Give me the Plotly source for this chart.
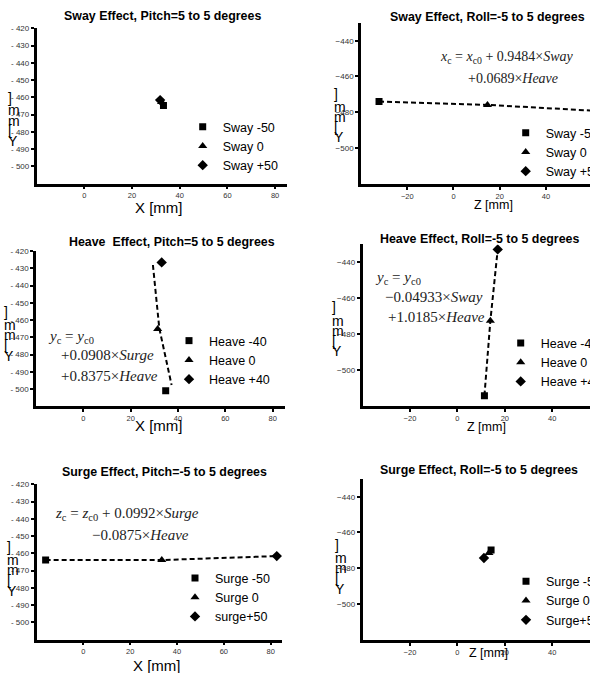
import plotly.graph_objects as go

# ---------------- data ----------------
marker_symbols = ["square", "triangle-up", "diamond"]

# Panel 1: Sway effect, pitch
p1_title = "Sway Effect, Pitch=5 to 5 degrees"
p1_names = ["Sway -50", "Sway 0", "Sway +50"]
p1_x = [33.2, 32.4, 31.8]
p1_y = [-464.8, -462.7, -461.6]

# Panel 2: Sway effect, roll
p2_title = "Sway Effect, Roll=-5 to 5 degrees"
p2_names = ["Sway -50", "Sway 0", "Sway +50"]
p2_x = [-32.2, 14.7, 63.0]
p2_y = [-474.0, -475.9, -479.3]
p2_eq = ["<i>x</i><sub>c</sub> = <i>x</i><sub>c0</sub> + 0.9484×<i>Sway</i>",
         "+0.0689×<i>Heave</i>"]

# Panel 3: Heave effect, pitch
p3_title = "Heave  Effect, Pitch=5 to 5 degrees"
p3_names = ["Heave -40", "Heave 0", "Heave +40"]
p3_x = [34.8, 31.4, 33.1]
p3_y = [-501.0, -465.2, -426.6]
p3_fit_x = [29.4, 32.1, 37.3]
p3_fit_y = [-428.1, -464.8, -497.7]
p3_eq = ["<i>y</i><sub>c</sub> = <i>y</i><sub>c0</sub>",
         "+0.0908×<i>Surge</i>",
         "+0.8375×<i>Heave</i>"]

# Panel 4: Heave effect, roll
p4_title = "Heave Effect, Roll=-5 to 5 degrees"
p4_names = ["Heave -40", "Heave 0", "Heave +40"]
p4_x = [11.4, 13.9, 17.0]
p4_y = [-514.3, -472.6, -432.8]
p4_eq = ["<i>y</i><sub>c</sub> = <i>y</i><sub>c0</sub>",
         "−0.04933×<i>Sway</i>",
         "+1.0185×<i>Heave</i>"]

# Panel 5: Surge effect, pitch
p5_title = "Surge Effect, Pitch=-5 to 5 degrees"
p5_names = ["Surge -50", "Surge 0", "surge+50"]
p5_x = [-16.1, 33.5, 82.6]
p5_y = [-463.9, -463.9, -461.6]
p5_eq = ["<i>z</i><sub>c</sub> = <i>z</i><sub>c0</sub> + 0.0992×<i>Surge</i>",
         "−0.0875×<i>Heave</i>"]

# Panel 6: Surge effect, roll
p6_title = "Surge Effect, Roll=-5 to 5 degrees"
p6_names = ["Surge -50", "Surge 0", "Surge+50"]
p6_x = [14.2, 13.3, 11.2]
p6_y = [-469.8, -471.5, -474.3]

# axis ticks
left_y_ticks = [-420, -430, -440, -450, -460, -470, -480, -490, -500]
left_y_ticktext = ["- 420", "- 430", "- 440", "- 450", "- 460", "- 470", "- 480", "- 490", "- 500"]
left_x_ticks = [0, 20, 40, 60, 80]
right_y_ticks = [-440, -460, -480, -500]
right_x_ticks = [-20, 0, 20, 40, 60]
y_title = "Y [mm]"
x_title_left = "X [mm]"
x_title_right = "Z [mm]"

# ---------------- layout helpers ----------------
W, H = 590, 673
SANS = "Liberation Sans, Arial, sans-serif"
SERIF = "Liberation Serif, Times New Roman, serif"


def xd(a, b):
    return [max(0, a / W), min(1, b / W)]


def yd(top, bot):
    return [1 - bot / H, 1 - top / H]


panels = [
    dict(title=p1_title, names=p1_names, x=p1_x, y=p1_y, line=None,
         xdom=xd(36.6, 287), ydom=yd(28.3, 183.6), xr=[-20, 85], yr=[-510, -420], left=True,
         tpos=(163, 16), xtpos=(159, 207), ychar=(6, 97.5),
         leg=(222.7, 128), eq=None, eqsize=14),
    dict(title=p2_title, names=p2_names, x=p2_x, y=p2_y, line=(p2_x, p2_y),
         xdom=xd(361, 590), ydom=yd(22.8, 183.8), xr=[-40, 59.05], yr=[-520, -430], left=False,
         tpos=(487, 17), xtpos=(493, 205), ychar=(332, 94),
         leg=(545.7, 134), eq=(p2_eq, [(437.7, 57), (465.7, 78)]), eqsize=14),
    dict(title=p3_title, names=p3_names, x=p3_x, y=p3_y, line=(p3_fit_x, p3_fit_y),
         xdom=xd(36, 284.5), ydom=yd(251, 406.3), xr=[-20, 85], yr=[-510, -420], left=True,
         tpos=(171.5, 242.3), xtpos=(159, 425), ychar=(2, 312),
         leg=(209, 342), eq=(p3_eq, [(46, 336.7), (59, 355), (59, 376)]), eqsize=15),
    dict(title=p4_title, names=p4_names, x=p4_x, y=p4_y, line=(p4_x, p4_y),
         xdom=xd(362.5, 590), ydom=yd(244.4, 405.9), xr=[-40, 55.9], yr=[-520, -430], left=False,
         tpos=(479.5, 239), xtpos=(486.7, 426.7), ychar=(330, 307.5),
         leg=(540.7, 344.3), eq=(p4_eq, [(372.7, 278.3), (383, 296.7), (386, 316.7)]), eqsize=15),
    dict(title=p5_title, names=p5_names, x=p5_x, y=p5_y, line=(p5_x, p5_y),
         xdom=xd(36.5, 282.4), ydom=yd(484.3, 639.6), xr=[-20, 85], yr=[-510, -420], left=True,
         tpos=(164, 472.3), xtpos=(157, 665), ychar=(5, 547),
         leg=(215, 579.3), eq=(p5_eq, [(53, 514), (90, 535)]), eqsize=15),
    dict(title=p6_title, names=p6_names, x=p6_x, y=p6_y, line=None,
         xdom=xd(362.5, 590), ydom=yd(478.8, 639.8), xr=[-40, 55.9], yr=[-520, -430], left=False,
         tpos=(478.5, 470), xtpos=(488.3, 653), ychar=(333, 545),
         leg=(546, 582.7), eq=None, eqsize=14),
]

fig = go.Figure()
layout = dict(
    width=W, height=H,
    margin=dict(l=0, r=0, t=0, b=0, pad=0, autoexpand=False),
    paper_bgcolor="white", plot_bgcolor="white",
    showlegend=True,
    font=dict(family=SANS, color="black"),
)
annotations = []
char_offsets = [0, 13, 23, 33, 43.5]
ychars = [c for c in reversed(y_title) if c != " "]
marker_sizes = [7, 8, 8]

for i, p in enumerate(panels):
    n = i + 1
    sfx = "" if n == 1 else str(n)
    leg_id = "legend" if n == 1 else f"legend{n}"
    xref, yref = f"x{sfx}", f"y{sfx}"

    if p["line"] is not None:
        fig.add_trace(go.Scatter(
            x=p["line"][0], y=p["line"][1], mode="lines",
            line=dict(color="black", width=2, dash="5px,3px"),
            showlegend=False, xaxis=xref, yaxis=yref, hoverinfo="skip"))
    for k in range(3):
        fig.add_trace(go.Scatter(
            x=[p["x"][k]], y=[p["y"][k]], mode="markers", name=p["names"][k],
            marker=dict(symbol=marker_symbols[k], size=marker_sizes[k], color="black"),
            legend=leg_id, xaxis=xref, yaxis=yref, cliponaxis=True))

    tickfont = dict(family=SANS, size=8, color="#333")
    layout[f"xaxis{sfx}"] = dict(
        domain=p["xdom"], range=p["xr"], anchor=yref,
        showline=True, linecolor="black", linewidth=2.5,
        showgrid=False, zeroline=False,
        ticks="outside", ticklen=3, tickwidth=1.5, tickcolor="black",
        tickvals=left_x_ticks if p["left"] else right_x_ticks,
        tickfont=dict(family=SANS, size=7.5, color="#333"),
    )
    ya = dict(
        domain=p["ydom"], range=p["yr"], anchor=xref,
        showline=True, linecolor="black", linewidth=2.5,
        showgrid=False, zeroline=False,
        ticks="outside", ticklen=3, tickwidth=1.5, tickcolor="black",
        tickfont=tickfont,
    )
    if p["left"]:
        ya.update(tickvals=left_y_ticks, ticktext=left_y_ticktext)
    else:
        ya.update(tickvals=right_y_ticks)
    layout[f"yaxis{sfx}"] = ya

    # legend
    lx, ly = p["leg"]
    layout[leg_id] = dict(
        x=(lx - 40) / W, y=1 - (ly - 16) / H, xanchor="left", yanchor="top",
        xref="paper", yref="paper",
        bgcolor="rgba(0,0,0,0)", borderwidth=0,
        font=dict(family=SANS, size=12.5, color="black"),
        itemwidth=30, tracegroupgap=0,
    )

    # title
    tx, ty = p["tpos"]
    annotations.append(dict(
        text=f"<b>{p['title']}</b>", x=tx / W, y=1 - ty / H, xref="paper", yref="paper",
        xanchor="center", yanchor="middle", showarrow=False,
        font=dict(family=SANS, size=12.4, color="black")))
    # x title
    xx, xy = p["xtpos"]
    annotations.append(dict(
        text=x_title_left if p["left"] else x_title_right,
        x=xx / W, y=1 - xy / H, xref="paper", yref="paper",
        xanchor="center", yanchor="middle", showarrow=False,
        font=dict(family=SANS, size=15 if p["left"] else 12.5, color="black")))
    # y title stacked characters
    cx, cy = p["ychar"]
    for c, off in zip(ychars, char_offsets):
        annotations.append(dict(
            text=c, x=cx / W, y=1 - (cy + off) / H, xref="paper", yref="paper",
            xanchor="left", yanchor="middle", showarrow=False,
            font=dict(family=SANS, size=14, color="black")))
    # equations
    if p["eq"] is not None:
        lines, poss = p["eq"]
        for t, (ex, ey) in zip(lines, poss):
            annotations.append(dict(
                text=t, x=ex / W, y=1 - ey / H, xref="paper", yref="paper",
                xanchor="left", yanchor="middle", showarrow=False,
                font=dict(family=SERIF, size=p["eqsize"], color="#222")))

layout["annotations"] = annotations
fig.update_layout(**layout)
fig.write_html(
    "out.html",
    config={"displayModeBar": False},
    post_script="document.body.style.margin='0';document.body.style.overflow='hidden';",
)
